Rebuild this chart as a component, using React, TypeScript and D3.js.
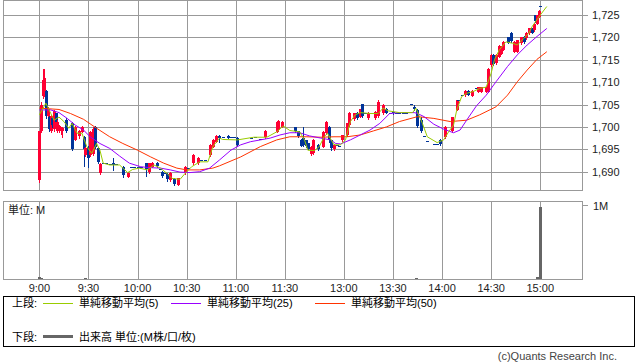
import React from "react";
import * as d3 from "d3";

// ---- data ----
// x positions are trading-minute slots from 9:00 (lunch 11:30-12:30 collapsed to a short gap)
const TIME_LABELS = ["9:00", "9:30", "10:00", "10:30", "11:00", "11:30", "13:00", "13:30", "14:00", "14:30", "15:00"];
const TIME_SLOTS = [0, 30, 60, 90, 120, 150, 186, 216, 246, 276, 306];
const PRICE_TICKS = [1690, 1695, 1700, 1705, 1710, 1715, 1720, 1725];

// [slot, open, high, low, close]
const CANDLES: [number, number, number, number, number][] = [
  [0, 1688.2, 1699.2, 1687.6, 1699.0],
  [1, 1699.0, 1705.5, 1698.8, 1704.8],
  [2, 1706.8, 1713.0, 1706.5, 1710.5],
  [3, 1707.5, 1713.0, 1707.0, 1711.0],
  [4, 1708.0, 1708.3, 1702.0, 1702.5],
  [5, 1702.5, 1704.5, 1701.5, 1704.0],
  [6, 1702.2, 1702.5, 1699.0, 1699.5],
  [7, 1699.0, 1702.7, 1698.9, 1702.5],
  [8, 1702.0, 1702.3, 1700.0, 1700.5],
  [9, 1699.5, 1703.8, 1699.0, 1703.5],
  [10, 1703.0, 1703.2, 1700.5, 1701.0],
  [11, 1699.0, 1701.5, 1698.9, 1701.2],
  [12, 1699.2, 1700.5, 1698.9, 1700.3],
  [13, 1699.3, 1700.0, 1698.5, 1700.0],
  [14, 1699.0, 1700.0, 1697.8, 1699.8],
  [16, 1701.5, 1702.0, 1698.9, 1699.2],
  [20, 1700.8, 1701.0, 1694.8, 1695.0],
  [22, 1697.1, 1700.2, 1697.0, 1700.0],
  [24, 1698.0, 1699.3, 1697.5, 1699.0],
  [26, 1698.9, 1700.2, 1698.8, 1700.0],
  [27, 1697.8, 1698.0, 1691.2, 1695.0],
  [28, 1693.7, 1695.5, 1693.5, 1695.3],
  [30, 1695.6, 1695.8, 1691.1, 1693.0],
  [31, 1693.7, 1699.0, 1693.5, 1698.8],
  [33, 1694.0, 1700.0, 1693.8, 1699.5],
  [34, 1700.0, 1700.2, 1695.3, 1695.5],
  [36, 1695.3, 1695.5, 1691.9, 1692.2],
  [37, 1689.7, 1692.0, 1689.5, 1691.8],
  [39, 1691.9, 1691.9, 1691.9, 1691.9],
  [41, 1691.9, 1691.9, 1691.9, 1691.9],
  [43, 1691.7, 1691.7, 1691.7, 1691.7],
  [45, 1691.9, 1693.0, 1690.4, 1691.5],
  [47, 1691.7, 1691.7, 1691.7, 1691.7],
  [51, 1691.1, 1691.3, 1688.9, 1689.2],
  [54, 1688.9, 1689.9, 1688.8, 1689.8],
  [56, 1691.1, 1691.1, 1691.1, 1691.1],
  [58, 1691.1, 1691.1, 1691.1, 1691.1],
  [60, 1691.0, 1691.0, 1691.0, 1691.0],
  [62, 1691.0, 1691.0, 1691.0, 1691.0],
  [65, 1691.9, 1692.0, 1689.0, 1690.5],
  [67, 1690.0, 1692.0, 1689.8, 1691.9],
  [69, 1691.1, 1692.2, 1691.0, 1692.0],
  [72, 1692.0, 1692.1, 1691.0, 1691.3],
  [74, 1690.5, 1690.5, 1690.5, 1690.5],
  [75, 1690.0, 1690.2, 1688.9, 1689.1],
  [77, 1689.7, 1689.7, 1689.7, 1689.7],
  [78, 1689.5, 1689.6, 1688.0, 1688.3],
  [80, 1688.1, 1689.9, 1688.0, 1689.7],
  [82, 1688.3, 1688.5, 1687.0, 1687.3],
  [85, 1687.1, 1688.7, 1687.0, 1688.5],
  [89, 1689.6, 1691.2, 1689.5, 1691.0],
  [91, 1690.8, 1690.8, 1690.8, 1690.8],
  [94, 1691.9, 1693.9, 1691.8, 1693.7],
  [97, 1691.9, 1693.2, 1691.8, 1693.0],
  [99, 1692.6, 1692.6, 1692.6, 1692.6],
  [101, 1692.6, 1692.6, 1692.6, 1692.6],
  [104, 1693.7, 1696.2, 1693.5, 1696.0],
  [106, 1695.6, 1697.3, 1695.5, 1697.1],
  [108, 1696.7, 1698.2, 1696.6, 1698.0],
  [110, 1698.0, 1698.3, 1696.7, 1697.6],
  [112, 1697.8, 1697.8, 1697.8, 1697.8],
  [115, 1698.0, 1698.2, 1697.5, 1697.6],
  [117, 1697.8, 1697.8, 1697.8, 1697.8],
  [119, 1697.7, 1697.7, 1697.7, 1697.7],
  [121, 1697.5, 1697.7, 1695.7, 1696.0],
  [129, 1697.5, 1697.5, 1697.5, 1697.5],
  [132, 1697.7, 1697.7, 1697.7, 1697.7],
  [135, 1697.3, 1697.3, 1697.3, 1697.3],
  [138, 1697.7, 1699.3, 1697.6, 1699.2],
  [145, 1698.9, 1701.1, 1698.8, 1701.0],
  [146, 1699.3, 1701.5, 1699.0, 1701.3],
  [148, 1700.0, 1701.4, 1699.9, 1701.2],
  [156, 1699.9, 1700.0, 1698.9, 1699.0],
  [158, 1699.0, 1699.1, 1697.7, 1698.0],
  [160, 1697.1, 1697.2, 1695.7, 1695.8],
  [161, 1697.5, 1700.0, 1695.7, 1696.0],
  [163, 1697.0, 1697.1, 1695.6, 1695.7],
  [164, 1696.3, 1696.4, 1695.0, 1695.1],
  [166, 1694.0, 1695.7, 1693.8, 1695.6],
  [167, 1694.1, 1697.2, 1694.0, 1697.0],
  [170, 1696.0, 1696.2, 1694.8, 1695.0],
  [173, 1695.6, 1699.0, 1695.5, 1698.9],
  [175, 1698.6, 1701.3, 1698.5, 1701.2],
  [177, 1700.0, 1700.2, 1696.7, 1697.0],
  [178, 1697.0, 1697.1, 1694.8, 1695.2],
  [180, 1695.0, 1696.1, 1694.9, 1696.0],
  [182, 1696.0, 1696.0, 1696.0, 1696.0],
  [183, 1695.8, 1695.8, 1695.8, 1695.8],
  [185, 1697.0, 1698.3, 1696.9, 1698.2],
  [188, 1698.2, 1700.9, 1698.0, 1700.8],
  [189, 1700.4, 1703.3, 1700.3, 1703.2],
  [192, 1701.7, 1703.1, 1701.6, 1703.0],
  [194, 1703.2, 1703.3, 1701.7, 1701.9],
  [196, 1702.3, 1704.1, 1702.2, 1704.0],
  [197, 1705.1, 1705.2, 1702.3, 1702.5],
  [199, 1703.2, 1703.2, 1703.2, 1703.2],
  [201, 1701.9, 1703.3, 1701.8, 1703.2],
  [205, 1701.9, 1703.5, 1701.8, 1703.4],
  [207, 1702.4, 1706.0, 1702.3, 1705.5],
  [210, 1703.0, 1705.2, 1702.9, 1705.0],
  [212, 1704.0, 1704.2, 1703.0, 1703.1],
  [214, 1703.2, 1703.2, 1703.2, 1703.2],
  [216, 1703.4, 1703.5, 1702.8, 1703.0],
  [218, 1703.2, 1703.2, 1703.2, 1703.2],
  [220, 1703.2, 1703.2, 1703.2, 1703.2],
  [222, 1703.2, 1703.2, 1703.2, 1703.2],
  [224, 1703.2, 1703.2, 1703.2, 1703.2],
  [227, 1705.1, 1705.1, 1705.1, 1705.1],
  [229, 1704.5, 1705.0, 1703.8, 1704.0],
  [231, 1703.8, 1704.0, 1700.0, 1700.3],
  [233, 1701.5, 1702.3, 1698.9, 1699.2],
  [235, 1698.0, 1698.0, 1698.0, 1698.0],
  [237, 1696.9, 1696.9, 1696.9, 1696.9],
  [241, 1696.2, 1696.2, 1696.2, 1696.2],
  [243, 1696.2, 1696.2, 1696.2, 1696.2],
  [245, 1697.0, 1697.2, 1696.0, 1696.2],
  [248, 1697.7, 1700.1, 1697.5, 1700.0],
  [252, 1699.0, 1702.3, 1698.8, 1702.2],
  [255, 1703.8, 1706.1, 1703.7, 1706.0],
  [256, 1706.0, 1706.0, 1706.0, 1706.0],
  [258, 1707.1, 1707.1, 1707.1, 1707.1],
  [260, 1707.1, 1708.2, 1707.0, 1708.1],
  [262, 1708.1, 1708.2, 1707.1, 1707.2],
  [264, 1707.0, 1708.2, 1706.9, 1708.1],
  [267, 1708.8, 1708.8, 1708.8, 1708.8],
  [268, 1707.9, 1709.0, 1707.8, 1708.9],
  [270, 1707.9, 1709.0, 1707.8, 1708.9],
  [273, 1707.9, 1709.0, 1707.8, 1708.9],
  [274, 1707.9, 1713.2, 1707.8, 1713.0],
  [276, 1713.8, 1716.2, 1713.7, 1716.0],
  [277, 1716.0, 1716.2, 1713.8, 1714.0],
  [279, 1714.2, 1716.2, 1714.1, 1716.0],
  [281, 1715.7, 1718.2, 1715.6, 1718.0],
  [282, 1716.4, 1718.0, 1716.3, 1717.9],
  [283, 1717.2, 1719.1, 1717.1, 1719.0],
  [286, 1720.0, 1720.1, 1718.7, 1718.8],
  [288, 1721.0, 1721.1, 1719.0, 1719.2],
  [290, 1716.8, 1719.1, 1716.7, 1719.0],
  [292, 1716.8, 1719.5, 1716.7, 1719.4],
  [294, 1718.7, 1720.1, 1718.6, 1720.0],
  [296, 1720.0, 1720.2, 1718.7, 1718.9],
  [297, 1719.8, 1721.1, 1719.7, 1721.0],
  [299, 1720.9, 1722.1, 1720.8, 1722.0],
  [301, 1722.0, 1722.1, 1720.9, 1721.0],
  [302, 1721.6, 1723.2, 1721.5, 1723.1],
  [303, 1725.0, 1725.1, 1723.5, 1723.6],
  [304, 1723.1, 1725.1, 1723.0, 1725.0],
  [305, 1724.6, 1726.1, 1724.5, 1726.0],
  [306, 1727.0, 1727.0, 1727.0, 1727.0],
];

// moving averages: [slot, value]
const MA5: [number, number][] = [
  [0, 1702.7], [4, 1705.3], [7, 1703], [9, 1701.5], [12, 1702.2], [15, 1701.2], [18, 1699.7], [20, 1700.8],
  [23, 1698.6], [26, 1698.6], [29, 1695.6], [32, 1694.1], [35, 1696.3], [37, 1694.8], [39, 1691.9], [43, 1691.5],
  [49, 1691.5], [54, 1689.8], [57, 1690.5], [61, 1690.8], [66, 1690.4], [70, 1691.5], [74, 1690.8], [78, 1689.6],
  [81, 1688.5], [86, 1688.3], [89, 1689.6], [93, 1691.1], [98, 1692.2], [103, 1692.2], [106, 1695.6], [110, 1697.5],
  [112, 1697.2], [121, 1697.1], [131, 1697.7], [139, 1697.7], [145, 1698.9], [149, 1700.2], [153, 1699.2], [159, 1698.9],
  [162, 1697.1], [164, 1694.8], [168, 1694.7], [171, 1695.6], [174, 1697.8], [176, 1698.6], [180, 1696], [184, 1696],
  [187, 1697.1], [190, 1701.2], [193, 1702.7], [196, 1703.2], [202, 1703], [207, 1703], [210, 1704.2], [213, 1703.6],
  [220, 1703.2], [228, 1703.2], [230, 1704.2], [234, 1700.8], [237, 1697.8], [243, 1696.5], [247, 1697.1], [250, 1698.9],
  [253, 1700.4], [255, 1703.8], [258, 1706.8], [261, 1707.5], [265, 1707.9], [269, 1708.6], [273, 1708.9], [276, 1712],
  [278, 1715], [281, 1717.2], [285, 1719], [289, 1718.7], [292, 1718.3], [296, 1719.8], [299, 1720.9], [301, 1722.4],
  [306, 1725], [310, 1726.9],
];
const MA25: [number, number][] = [
  [0, 1703.8], [7, 1703.8], [12, 1703.2], [17, 1701.9], [22, 1700.4], [27, 1699.3], [31, 1697.8], [37, 1696.3],
  [43, 1695.2], [49, 1693.5], [55, 1691.9], [62, 1691.1], [68, 1690.9], [74, 1690.8], [80, 1690.4], [86, 1689.9],
  [92, 1689.8], [98, 1690], [104, 1690.8], [110, 1692.6], [117, 1694.8], [123, 1696], [129, 1696.7], [135, 1697.1],
  [141, 1697.5], [147, 1698.2], [153, 1698.7], [159, 1698.7], [165, 1698], [172, 1697.5], [178, 1697.1], [181, 1696.3],
  [184, 1696.2], [190, 1697.1], [196, 1698.2], [202, 1699.3], [208, 1700.8], [214, 1703], [220, 1703.2], [229, 1703.2],
  [231, 1703], [235, 1702.3], [241, 1700.6], [247, 1699.5], [253, 1698.7], [257, 1699.3], [261, 1701.5], [267, 1704.7],
  [273, 1707.1], [279, 1710.1], [286, 1713.5], [292, 1716.1], [298, 1718.3], [304, 1720.2], [310, 1722],
];
const MA50: [number, number][] = [
  [0, 1704.2], [12, 1703.9], [19, 1703], [27, 1701.7], [35, 1699.7], [43, 1697.8], [51, 1696.3], [60, 1694.8],
  [68, 1693.3], [76, 1691.9], [84, 1690.8], [90, 1690.4], [98, 1690.4], [106, 1690.8], [110, 1691.3], [123, 1693.3],
  [135, 1695.6], [145, 1697.1], [153, 1697.8], [163, 1697.8], [172, 1697.7], [180, 1697.8], [188, 1697.8], [196, 1698.2],
  [204, 1699.1], [212, 1700], [220, 1701.2], [231, 1702.3], [241, 1701.9], [251, 1701.2], [261, 1701.5], [269, 1702.7],
  [279, 1704.5], [286, 1707.1], [292, 1710.1], [298, 1712.7], [304, 1715.1], [310, 1716.8],
];

// volume in millions: [slot, volume]
const VOLUME: [number, number][] = [
  [0, 0.03], [1, 0.012], [28, 0.012], [230, 0.012], [304, 0.025], [306, 0.97],
];

const LEGEND_MA = [
  { label: "単純移動平均(5)", color: "#99cc00" },
  { label: "単純移動平均(25)", color: "#9900ff" },
  { label: "単純移動平均(50)", color: "#ff3300" },
];

const UP = "#ff0033";
const DOWN = "#003399";
const GRID = "#999999";
const FONT = "'Liberation Sans', 'Noto Sans CJK JP', sans-serif";

export default function App() {
  const x = d3.scaleLinear().domain([-22.2, 331.8]).range([3, 582.5]);
  const y = d3.scaleLinear().domain([1685.91, 1728.13]).range([190, 1]);
  const v = d3.scaleLinear().domain([0, 1]).range([279, 205]);

  const line = d3
    .line<[number, number]>()
    .x((d) => x(d[0]))
    .y((d) => y(d[1]));

  const px = (n: number) => Math.round(n) + 0.5;

  return (
    <svg
      width={638}
      height={362}
      style={{ position: "absolute", left: 0, top: 0, background: "#fff" }}
      fontFamily={FONT}
    >
      <rect x={0} y={0} width={638} height={362} fill="#fff" />
      {/* main panel grid */}
      {PRICE_TICKS.map((p) => (
        <line key={"h" + p} x1={3} x2={588} y1={px(y(p))} y2={px(y(p))} stroke={GRID} shapeRendering="crispEdges" />
      ))}
      {TIME_SLOTS.map((s) => (
        <g key={"v" + s}>
          <line x1={px(x(s))} x2={px(x(s))} y1={1} y2={190} stroke={GRID} shapeRendering="crispEdges" />
          <line x1={px(x(s))} x2={px(x(s))} y1={201} y2={279} stroke={GRID} shapeRendering="crispEdges" />
        </g>
      ))}
      <rect x={3.5} y={0.5} width={579} height={190} fill="none" stroke={GRID} shapeRendering="crispEdges" />
      <rect x={3.5} y={201.5} width={579} height={78} fill="none" stroke={GRID} shapeRendering="crispEdges" />
      <line x1={582} x2={588} y1={px(v(1))} y2={px(v(1))} stroke={GRID} shapeRendering="crispEdges" />

      {/* price labels */}
      {PRICE_TICKS.map((p) => (
        <text key={"t" + p} x={592} y={y(p) + 4} fontSize={11} fill="#222">
          {d3.format(",")(p)}
        </text>
      ))}
      <text x={593} y={210} fontSize={11} fill="#222">1M</text>
      <text x={8} y={213.5} fontSize={11} fill="#222">単位: M</text>

      {/* time labels */}
      {TIME_SLOTS.map((s, i) => (
        <text key={"x" + s} x={x(s)} y={292} fontSize={11} fill="#222" textAnchor="middle">
          {TIME_LABELS[i]}
        </text>
      ))}

      {/* candles */}
      {CANDLES.map(([s, o, h, l, c]) => {
        const cx = Math.round(x(s));
        const col = c > o ? UP : DOWN;
        const top = Math.round(y(Math.max(o, c)));
        const bot = Math.round(y(Math.min(o, c)));
        return (
          <g key={"c" + s}>
            <line x1={cx + 0.5} x2={cx + 0.5} y1={Math.round(y(h))} y2={Math.round(y(l)) + 1} stroke={col} shapeRendering="crispEdges" />
            <rect x={cx - 1} y={top} width={3} height={Math.max(1, bot - top)} fill={col} shapeRendering="crispEdges" />
          </g>
        );
      })}

      {/* moving averages */}
      <path d={line(MA50) || ""} fill="none" stroke="#ff3300" strokeWidth={1} />
      <path d={line(MA25) || ""} fill="none" stroke="#9900ff" strokeWidth={1} />
      <path d={line(MA5) || ""} fill="none" stroke="#99cc00" strokeWidth={1} />

      {/* volume */}
      {VOLUME.map(([s, val]) => {
        const cx = Math.round(x(s));
        const top = Math.round(v(val));
        return <rect key={"vol" + s} x={cx - 1} y={top} width={3} height={Math.max(1, 279 - top)} fill="#666" shapeRendering="crispEdges" />;
      })}

      {/* legend */}
      <rect x={3.5} y={296.5} width={631} height={50} fill="none" stroke="#000" shapeRendering="crispEdges" />
      <text x={12} y={307} fontSize={11} fill="#000">上段:</text>
      {LEGEND_MA.map((m, i) => {
        const lx = [43, 171, 315][i];
        return (
          <g key={m.label}>
            <line x1={lx} x2={lx + 30} y1={303.5} y2={303.5} stroke={m.color} shapeRendering="crispEdges" />
            <text x={lx + 36} y={307} fontSize={11} fill="#000">{m.label}</text>
          </g>
        );
      })}
      <text x={12} y={340.5} fontSize={11} fill="#000">下段:</text>
      <line x1={43} x2={73} y1={336.5} y2={336.5} stroke="#666" strokeWidth={3} />
      <text x={79} y={340.5} fontSize={11} fill="#000">出来高 単位:(M株/口/枚)</text>

      <text x={617} y={360} fontSize={11} fill="#444" textAnchor="end">(c)Quants Research Inc.</text>
    </svg>
  );
}
